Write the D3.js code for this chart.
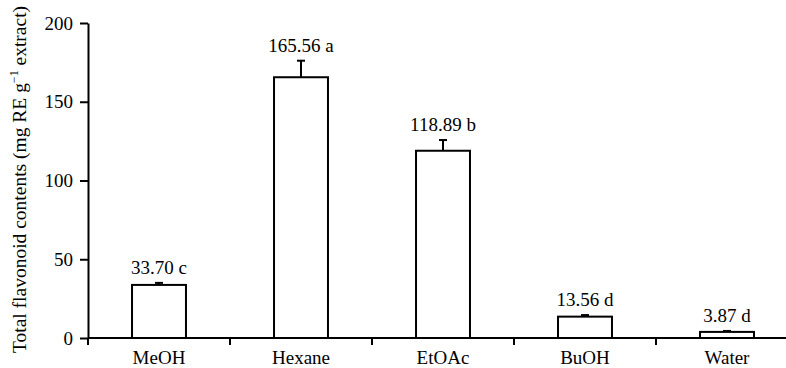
<!DOCTYPE html>
<html>
<head>
<meta charset="utf-8">
<script src="https://cdn.jsdelivr.net/npm/d3@7"></script>
<style>
  html, body { margin: 0; padding: 0; background: #fff; }
  svg { display: block; }
  text { font-family: "Liberation Serif", "Times New Roman", serif; fill: #000; }
</style>
</head>
<body>
<svg id="chart" width="786" height="368"></svg>
<script>
// Total flavonoid contents of each solvent extract
const categories = ["MeOH", "Hexane", "EtOAc", "BuOH", "Water"];
const values = [33.70, 165.56, 118.89, 13.56, 3.87];
const errors = [1.3, 10.5, 6.8, 1.0, 0.6];
const letters = ["c", "a", "b", "d", "d"];
const yTicks = [0, 50, 100, 150, 200];

const svg = d3.select("#chart");
const plotLeft = 88, plotRight = 798, plotTop = 23, plotBottom = 338;
const fontSize = 19;

const x = d3.scaleBand()
  .domain(categories)
  .range([plotLeft, plotRight])
  .paddingInner(0.62)
  .paddingOuter(0.31);

const y = d3.scaleLinear().domain([0, 200]).range([plotBottom, plotTop]);

// Bars
svg.append("g").selectAll("rect")
  .data(categories)
  .join("rect")
  .attr("x", d => x(d))
  .attr("y", (d, i) => y(values[i]))
  .attr("width", x.bandwidth())
  .attr("height", (d, i) => y(0) - y(values[i]))
  .attr("fill", "#fff")
  .attr("stroke", "#000")
  .attr("stroke-width", 2);

// Error bars (upper whisker only)
const eb = svg.append("g").attr("stroke", "#000").attr("stroke-width", 2);
categories.forEach((c, i) => {
  const cx = x(c) + x.bandwidth() / 2;
  eb.append("line")
    .attr("x1", cx).attr("x2", cx)
    .attr("y1", y(values[i])).attr("y2", y(values[i] + errors[i]));
  eb.append("line")
    .attr("x1", cx - 4).attr("x2", cx + 4)
    .attr("y1", y(values[i] + errors[i])).attr("y2", y(values[i] + errors[i]));
});

// Value labels with significance letters
svg.append("g").selectAll("text")
  .data(categories)
  .join("text")
  .attr("x", d => x(d) + x.bandwidth() / 2)
  .attr("y", (d, i) => y(values[i] + errors[i]) - 9)
  .attr("text-anchor", "middle")
  .attr("font-size", fontSize)
  .text((d, i) => values[i].toFixed(2) + " " + letters[i]);

// Y axis
const yAxis = svg.append("g")
  .attr("transform", `translate(${plotLeft},0)`)
  .call(d3.axisLeft(y).tickValues(yTicks).tickSize(8).tickSizeOuter(0).tickPadding(7));
yAxis.select(".domain").attr("stroke-width", 2);
yAxis.selectAll(".tick line").attr("stroke-width", 2);
yAxis.selectAll(".tick text")
  .attr("font-size", fontSize)
  .attr("font-family", "Liberation Serif, serif");

// X axis with ticks on band boundaries
const step = x.step();
const bounds = d3.range(categories.length + 1).map(i => plotLeft + i * step);
const xg = svg.append("g");
xg.append("line")
  .attr("x1", plotLeft).attr("x2", plotRight)
  .attr("y1", plotBottom).attr("y2", plotBottom)
  .attr("stroke", "#000").attr("stroke-width", 2);
xg.selectAll("line.tk")
  .data(bounds)
  .join("line")
  .attr("class", "tk")
  .attr("x1", d => d).attr("x2", d => d)
  .attr("y1", plotBottom).attr("y2", plotBottom + 7)
  .attr("stroke", "#000").attr("stroke-width", 2);
xg.selectAll("text")
  .data(categories)
  .join("text")
  .attr("x", d => x(d) + x.bandwidth() / 2)
  .attr("y", 364)
  .attr("text-anchor", "middle")
  .attr("font-size", fontSize)
  .text(d => d);

// Y axis title
const title = svg.append("text")
  .attr("transform", `translate(26,${(plotTop + plotBottom) / 2 - 1}) rotate(-90)`)
  .attr("text-anchor", "middle")
  .attr("font-size", 19.5);
title.append("tspan").text("Total flavonoid contents (mg RE g");
title.append("tspan").attr("font-size", 12).attr("dy", -8).text("\u22121");
title.append("tspan").attr("dy", 8).text(" extract)");
</script>
</body>
</html>
